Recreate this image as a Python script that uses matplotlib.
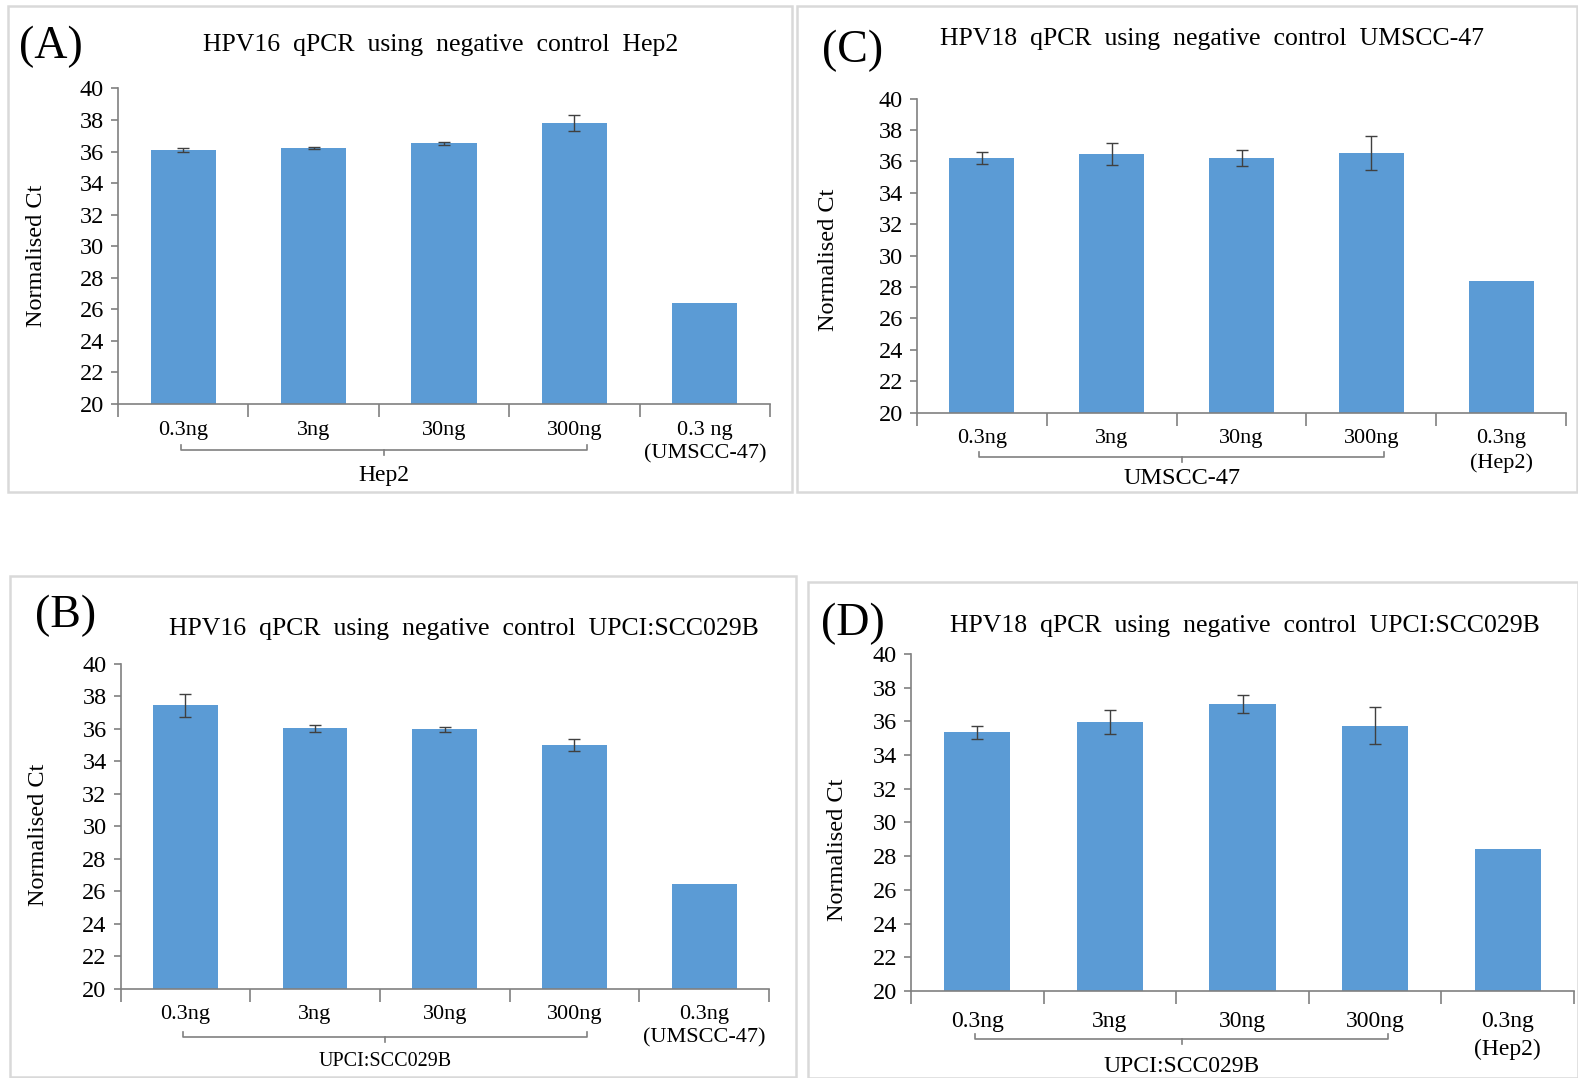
import matplotlib.pyplot as plt
import matplotlib.patches as patches
import matplotlib.transforms as mtrans
import numpy as np

plt.rcParams['font.family'] = ['Liberation Serif', 'DejaVu Serif']

W, H = 1578, 1078
BLUE = '#5B9BD5'
AXC = '#808080'

doses = ['0.3ng', '3ng', '30ng', '300ng']

# panel A: HPV16, negative control Hep2
a_vals = [36.09, 36.24, 36.52, 37.82, 26.38]
a_errs = [0.12, 0.05, 0.08, 0.50, 0]
# panel B: HPV16, negative control UPCI:SCC029B
b_vals = [37.45, 36.04, 35.98, 35.03, 26.43]
b_errs = [0.72, 0.22, 0.16, 0.38, 0]
# panel C: HPV18, negative control UMSCC-47
c_vals = [36.22, 36.48, 36.22, 36.54, 28.39]
c_errs = [0.41, 0.70, 0.52, 1.10, 0]
# panel D: HPV18, negative control UPCI:SCC029B
d_vals = [35.36, 35.96, 37.01, 35.74, 28.40]
d_errs = [0.39, 0.70, 0.53, 1.11, 0]

yticks = np.arange(20, 41, 2)


def fx(px):
    return px / W


def fy(py):
    return 1 - py / H


def panel(fig, box, rect, vals, errs, last_label, group, title, letter,
          title_xy, letter_xy, ylab_xy, lab_y, last_y2, brk_y, grp_y,
          fs_tick=16, fs_grp=17):
    # frame around panel
    x0, y0, x1, y1 = box
    fig.patches.append(patches.Rectangle((fx(x0), fy(y1)), fx(x1 - x0), (y1 - y0) / H,
                                         transform=fig.transFigure, fill=False,
                                         edgecolor='#D9D9D9', lw=1.8))
    l, t, r, b = rect
    ax = fig.add_axes([fx(l), fy(b), fx(r - l), (b - t) / H])
    x = np.arange(len(vals))
    e = [v if v > 0 else np.nan for v in errs]
    ax.bar(x, np.array(vals) - 20, bottom=20, width=0.5, color=BLUE)
    ax.errorbar(x, vals, yerr=e, fmt='none', ecolor='#404040', elinewidth=1,
                capsize=4, capthick=1)
    ax.set_xlim(-0.5, 4.5)
    ax.set_ylim(20, 40)
    ax.set_yticks(yticks)
    ax.tick_params(axis='y', labelsize=17.5, length=5, color=AXC, width=1.2, pad=5)
    ax.set_xticks(np.arange(-0.5, 5, 1))
    ax.set_xticklabels([])
    ax.tick_params(axis='x', length=9, color=AXC, width=1.2)
    for s in ['top', 'right']:
        ax.spines[s].set_visible(False)
    for s in ['left', 'bottom']:
        ax.spines[s].set_color(AXC)
        ax.spines[s].set_linewidth(1.2)

    tr = mtrans.blended_transform_factory(ax.transData, fig.transFigure)
    for i, d in enumerate(doses):
        ax.text(i, fy(lab_y), d, transform=tr, ha='center', va='center', fontsize=fs_tick)
    ax.text(4, fy(lab_y), last_label[0], transform=tr, ha='center', va='center', fontsize=fs_tick)
    ax.text(4, fy(last_y2), last_label[1], transform=tr, ha='center', va='center', fontsize=fs_tick)

    # bracket under the cell line doses
    bx0, bx1 = -0.02, 3.1
    dy = 5 / H
    ax.plot([bx0, bx0, bx1, bx1], [fy(brk_y) + dy, fy(brk_y), fy(brk_y), fy(brk_y) + dy],
            transform=tr, color=AXC, lw=1.2, clip_on=False)
    mid = (bx0 + bx1) / 2
    ax.plot([mid, mid], [fy(brk_y), fy(brk_y) - dy], transform=tr, color=AXC, lw=1.2,
            clip_on=False)
    ax.text(mid, fy(grp_y), group, transform=tr, ha='center', va='center', fontsize=fs_grp)

    fig.text(fx(title_xy[0]), fy(title_xy[1]), title, ha='center', va='center', fontsize=18.5)
    fig.text(fx(letter_xy[0]), fy(letter_xy[1]), letter, ha='center', va='center', fontsize=33)
    fig.text(fx(ylab_xy[0]), fy(ylab_xy[1]), 'Normalised Ct', ha='center', va='center',
             rotation=90, fontsize=17.5)
    return ax


fig = plt.figure(figsize=(W / 100, H / 100), dpi=100)

panel(fig, (8, 6, 792, 492), (118, 88.5, 770, 404), a_vals, a_errs,
      ('0.3 ng', '(UMSCC-47)'), 'Hep2', 'HPV16  qPCR  using  negative  control  Hep2', '(A)',
      (441, 45), (51, 47), (36, 256), 430, 454, 450, 475, fs_grp=17)

panel(fig, (797, 6, 1577, 492), (917, 98.7, 1566, 412.7), c_vals, c_errs,
      ('0.3ng', '(Hep2)'), 'UMSCC-47', 'HPV18  qPCR  using  negative  control  UMSCC-47', '(C)',
      (1212, 39), (853, 51), (828, 260), 439, 463, 457, 479, fs_grp=17.5)

panel(fig, (10, 576, 796, 1077), (120.5, 664, 769, 988.7), b_vals, b_errs,
      ('0.3ng', '(UMSCC-47)'), 'UPCI:SCC029B', 'HPV16  qPCR  using  negative  control  UPCI:SCC029B', '(B)',
      (464, 629), (66, 616), (38, 835), 1014, 1038, 1037, 1062, fs_tick=16, fs_grp=14.5)

panel(fig, (808, 582, 1578, 1078), (911, 654, 1574, 991), d_vals, d_errs,
      ('0.3ng', '(Hep2)'), 'UPCI:SCC029B', 'HPV18  qPCR  using  negative  control  UPCI:SCC029B', '(D)',
      (1245, 626), (853, 624), (837, 850), 1021, 1049, 1039, 1067, fs_tick=17, fs_grp=17)

fig.savefig('out.png', dpi=100, facecolor='white')
